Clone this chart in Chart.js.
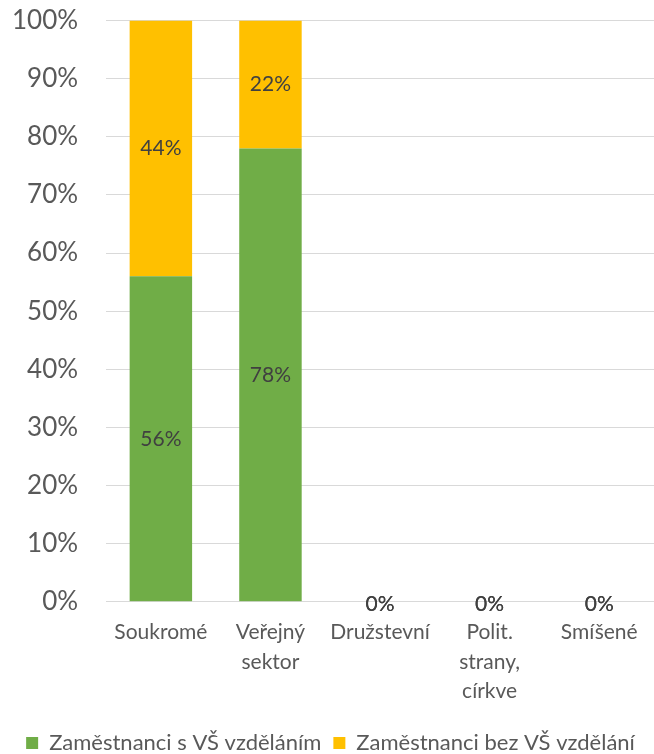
<!DOCTYPE html>
<html>
<head>
<meta charset="utf-8">
<script src="https://cdn.jsdelivr.net/npm/chart.js@4"></script>
<style>
  html, body { margin: 0; padding: 0; background: #fff; }
  #wrap { width: 654px; height: 754px; }
</style>
</head>
<body>
<div id="wrap"><canvas id="chart" width="654" height="754"></canvas></div>
<script>
// Categories and series values (percent)
var categories = [
  'Soukromé',
  ['Veřejný', 'sektor'],
  'Družstevní',
  ['Polit.', 'strany,', 'církve'],
  'Smíšené'
];
var withDegree = [56, 78, 0, 0, 0];
var withoutDegree = [44, 22, 0, 0, 0];
var yTicks = [0, 10, 20, 30, 40, 50, 60, 70, 80, 90, 100];

var FONT = 'Lato, "Open Sans", sans-serif';

// Draws the value labels in the middle of each stacked piece
var valueLabels = {
  id: 'valueLabels',
  afterDatasetsDraw: function (chart) {
    var ctx = chart.ctx;
    ctx.save();
    ctx.font = '21px ' + FONT;
    ctx.fillStyle = '#404040';
    ctx.textAlign = 'center';
    ctx.textBaseline = 'middle';
    chart.data.datasets.forEach(function (ds, i) {
      var meta = chart.getDatasetMeta(i);
      meta.data.forEach(function (bar, j) {
        var v = ds.data[j];
        var y;
        if (v > 0) {
          y = (bar.y + bar.base) / 2;
        } else {
          y = bar.base + 2;
        }
        ctx.fillText(v + '%', bar.x, y);
      });
    });
    ctx.restore();
  }
};

var ctx = document.getElementById('chart').getContext('2d');
new Chart(ctx, {
  type: 'bar',
  data: {
    labels: categories,
    datasets: [
      {
        label: 'Zaměstnanci s VŠ vzděláním',
        data: withDegree,
        backgroundColor: '#70AD47',
        categoryPercentage: 0.57,
        barPercentage: 1
      },
      {
        label: 'Zaměstnanci bez VŠ vzdělání',
        data: withoutDegree,
        backgroundColor: '#FFC000',
        categoryPercentage: 0.57,
        barPercentage: 1
      }
    ]
  },
  options: {
    responsive: false,
    animation: false,
    layout: { padding: { top: 0, right: 0, left: 7, bottom: -10 } },
    plugins: {
      legend: {
        position: 'bottom',
        labels: {
          boxWidth: 12,
          boxHeight: 12,
          padding: 12,
          color: '#595959',
          font: { family: FONT, size: 22 }
        }
      },
      tooltip: { enabled: false }
    },
    scales: {
      x: {
        stacked: true,
        grid: { display: false, drawTicks: false, tickLength: 0 },
        border: { color: '#D9D9D9' },
        ticks: {
          color: '#595959',
          font: { family: FONT, size: 21, lineHeight: 1.4 },
          maxRotation: 0,
          autoSkip: false,
          padding: 16
        },
        afterFit: function (axis) {
          axis.height -= 2;
        }
      },
      y: {
        stacked: true,
        min: 0,
        max: 100,
        afterBuildTicks: function (axis) {
          axis.ticks = yTicks.map(function (v) { return { value: v }; });
        },
        grid: { color: '#D9D9D9', drawTicks: true, tickLength: 23, tickColor: 'rgba(0,0,0,0)' },
        border: { display: false },
        ticks: {
          color: '#595959',
          font: { family: FONT, size: 26 },
          padding: 5,
          callback: function (v) { return v + '%'; }
        }
      }
    }
  },
  plugins: [valueLabels]
});
</script>
</body>
</html>
